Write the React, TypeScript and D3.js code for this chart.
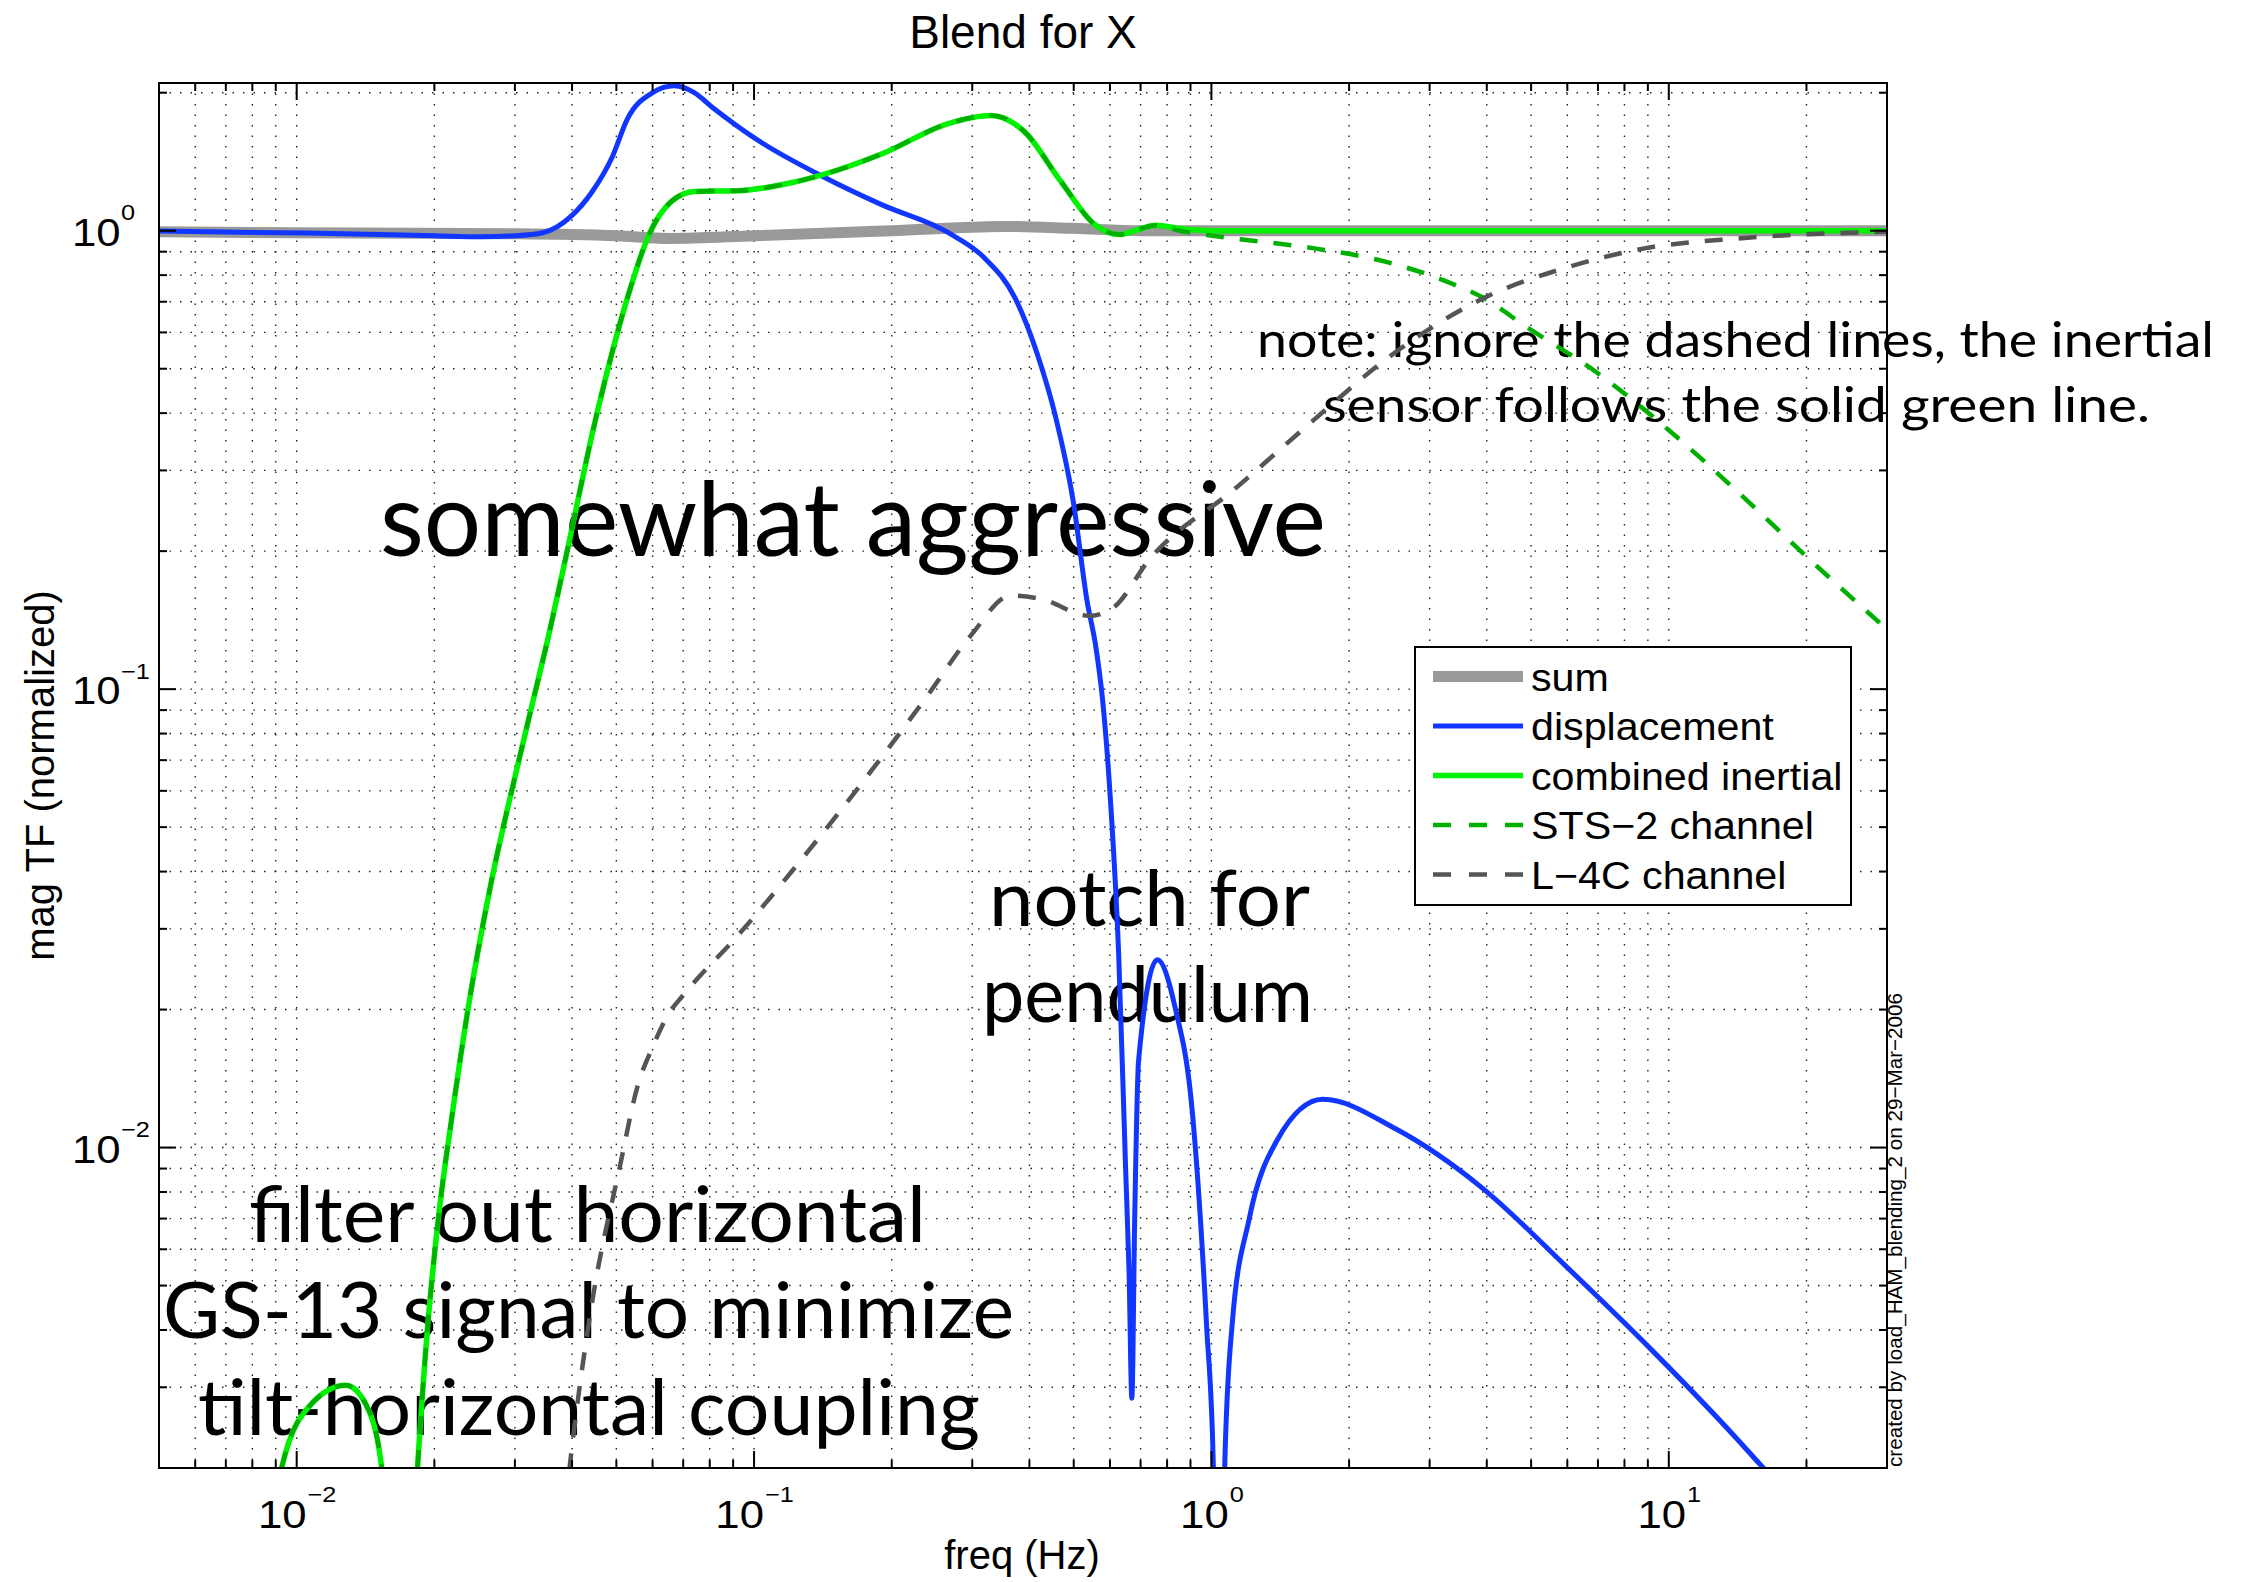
import React from "react";
import * as d3 from "d3";

// ---------------- data ----------------
const sumFreq = [0.005, 0.01, 0.03, 0.05, 0.065, 0.1, 0.2, 0.35, 0.5, 0.7, 1, 30];
const sumMag = [0.995, 0.99, 0.985, 0.975, 0.962, 0.975, 1.0, 1.022, 1.012, 1.0, 1.0, 1.0];

const dispFreq = [
  0.005, 0.0105, 0.02, 0.0252, 0.03, 0.0345, 0.04, 0.0441, 0.049, 0.0528, 0.06, 0.067, 0.074, 0.081,
  0.1015, 0.142, 0.19, 0.266, 0.3187, 0.3727, 0.417, 0.456, 0.499, 0.534, 0.56, 0.578, 0.601, 0.627,
  0.649, 0.6606, 0.67, 0.6796, 0.693, 0.7615, 0.834, 0.909, 0.9757, 1.01, 1.04, 1.069, 1.11, 1.209,
  1.394, 1.751, 2.539, 3.894, 5.97, 9.17, 14.07, 16.1, 20, 30,
];
const dispMag = [
  0.998, 0.988, 0.975, 0.97, 0.975, 0.99, 1.08, 1.21, 1.45, 1.75, 2.0, 2.07, 2.0, 1.86,
  1.58, 1.31, 1.14, 0.99, 0.873, 0.711, 0.535, 0.394, 0.256, 0.157, 0.122, 0.095, 0.058, 0.0263,
  0.0091, 0.00536, 0.00284, 0.00698, 0.01546, 0.0257, 0.0201, 0.01187, 0.00411, 0.002, 0.0003, 0.002, 0.00411, 0.00698,
  0.0104, 0.01274, 0.01096, 0.00819, 0.0055, 0.00362, 0.00232, 0.002, 0.0016, 0.00106,
];

const combFreq = [
  0.0085, 0.00927, 0.01077, 0.0128, 0.01415, 0.01535, 0.0168, 0.01837, 0.01935, 0.0204, 0.0219, 0.0237,
  0.0265, 0.0303, 0.0327, 0.0355, 0.0387, 0.0452, 0.0528, 0.0591, 0.0662, 0.0741, 0.0927, 0.1213, 0.19,
  0.266, 0.3296, 0.39, 0.467, 0.558, 0.631, 0.7, 0.756, 0.851, 1.0, 30,
];
const combMag = [
  0.0012, 0.002, 0.00276, 0.00303, 0.00276, 0.002, 0.0004, 0.002, 0.00411, 0.00698, 0.01187, 0.0201,
  0.037, 0.067, 0.0923, 0.13, 0.1924, 0.394, 0.711, 0.987, 1.162, 1.218, 1.223, 1.274, 1.47,
  1.713, 1.784, 1.645, 1.287, 1.028, 0.981, 1.01, 1.028, 1.011, 1.0, 1.0,
];

// STS-2 channel follows the combined inertial curve below ~0.8 Hz, then rolls off
const stsHighFreq = [0.851, 1.045, 1.68, 2.4, 3.34, 3.94, 4.87, 6.97, 9.96, 14.2, 20.3, 30];
const stsHighMag = [1.0, 0.97, 0.915, 0.856, 0.768, 0.713, 0.618, 0.49, 0.3685, 0.2685, 0.192, 0.135];

const l4cFreq = [
  0.038, 0.0395, 0.0444, 0.0509, 0.0555, 0.0599, 0.0649, 0.07, 0.0927, 0.132, 0.188, 0.238, 0.298,
  0.364, 0.4266, 0.54, 0.61, 0.732, 1.123, 1.68, 2.4, 3.94, 5.9, 8.84, 14.2, 30,
];
const l4cMag = [
  0.0014, 0.002, 0.00469, 0.0091, 0.0135, 0.0165, 0.0195, 0.0215, 0.0292, 0.0446, 0.07, 0.096, 0.131,
  0.16, 0.157, 0.1445, 0.1506, 0.192, 0.273, 0.3876, 0.523, 0.713, 0.828, 0.915, 0.962, 0.995,
];

const xLabelTicks = [0.01, 0.1, 1, 10];
const xLabelExps = ["\u22122", "\u22121", "0", "1"];
const yLabelTicks = [0.01, 0.1, 1];
const yLabelExps = ["\u22122", "\u22121", "0"];

const legendNames = ["sum", "displacement", "combined inertial", "STS\u22122 channel", "L\u22124C channel"];

const titleText = "Blend for X";
const xLabelText = "freq (Hz)";
const yLabelText = "mag TF (normalized)";
const creditText = "created by load_HAM_blending_2 on 29\u2212Mar\u22122006";

// ---------------- layout / style ----------------
const W = 2247;
const H = 1582;
const M = { left: 159, right: 1887, top: 83, bottom: 1468 };
const FONT = "'Liberation Sans', Arial, Helvetica, sans-serif";
const GILL = "Lato, 'Open Sans', sans-serif";

const styles = [
  { color: "#999999", width: 11, dash: null },
  { color: "#1036ff", width: 5, dash: null },
  { color: "#00f200", width: 5.5, dash: null },
  { color: "#00b000", width: 4.5, dash: "18,16" },
  { color: "#555555", width: 4.5, dash: "18,16" },
];

type P = { f: number; v: number };
const zip = (fs: number[], vs: number[]): P[] => fs.map((f, i) => ({ f, v: vs[i] }));

function SText(props: any) {
  const { x, y, sx = 1, size, anchor = "start", family = FONT, children, rotate, len } = props;
  const tr = `translate(${x},${y})${rotate ? ` rotate(${rotate})` : ""} scale(${sx},1)`;
  return (
    <text
      transform={tr}
      fontSize={size}
      textAnchor={anchor}
      fontFamily={family}
      fill="#000"
      textLength={len}
      lengthAdjust={len ? "spacingAndGlyphs" : undefined}
    >
      {children}
    </text>
  );
}

export default function App() {
  const x = d3.scaleLog().domain([0.005, 30]).range([M.left, M.right]);
  const y = d3.scaleLog().domain([0.002, 2.1]).range([M.bottom, M.top]);
  const line = d3
    .line<P>()
    .x((d) => x(d.f))
    .y((d) => y(d.v))
    .curve(d3.curveMonotoneX);

  const comb = zip(combFreq, combMag);
  const series = [
    zip(sumFreq, sumMag),
    zip(dispFreq, dispMag),
    comb,
    comb.filter((d) => d.f < 0.8).concat(zip(stsHighFreq, stsHighMag)),
    zip(l4cFreq, l4cMag),
  ];

  const isMajor = (t: number) => Math.abs(Math.log10(t) - Math.round(Math.log10(t))) < 1e-6;
  const xTicks = x.ticks();
  const yTicks = y.ticks();

  const tickSX = 1.15;
  const tickSize = 38;
  const expSize = 22;
  const w10 = 1.112 * tickSize * tickSX;
  const expW = (e: string) => (e.length > 1 ? 1.14 : 0.556) * expSize * tickSX;

  const legendRowY = [676.5, 726, 775.5, 825, 874.5];

  return (
    <div style={{ position: "absolute", left: 0, top: 0 }}>
      <svg width={W} height={H} viewBox={`0 0 ${W} ${H}`} style={{ display: "block", background: "#fff" }}>
        <defs>
          <clipPath id="plotclip">
            <rect x={M.left} y={M.top} width={M.right - M.left} height={M.bottom - M.top} />
          </clipPath>
        </defs>
        <rect x={0} y={0} width={W} height={H} fill="#fff" />

        {/* grid */}
        <g stroke="#222" strokeWidth={1.4} strokeDasharray="1.5,9" fill="none">
          {xTicks.map((t, i) => (
            <line key={"gx" + i} x1={x(t)} x2={x(t)} y1={M.top} y2={M.bottom} />
          ))}
          {yTicks.map((t, i) => (
            <line key={"gy" + i} x1={M.left} x2={M.right} y1={y(t)} y2={y(t)} />
          ))}
        </g>

        {/* annotations (Gill-Sans-like) */}
        <g fontFamily={GILL} fill="#000">
          <text x={380} y={556} fontSize={103} textLength={946} lengthAdjust="spacingAndGlyphs">
            somewhat aggressive
          </text>
          <text x={1257} y={357} fontSize={48} textLength={957} lengthAdjust="spacingAndGlyphs">
            note: ignore the dashed lines, the inertial
          </text>
          <text x={1323} y={422} fontSize={48} textLength={827} lengthAdjust="spacingAndGlyphs">
            sensor follows the solid green line.
          </text>
          <text x={989} y={926} fontSize={78} textLength={321} lengthAdjust="spacingAndGlyphs">
            notch for
          </text>
          <text x={982} y={1022} fontSize={78} textLength={331} lengthAdjust="spacingAndGlyphs">
            pendulum
          </text>
          <text x={249} y={1242} fontSize={78} textLength={677} lengthAdjust="spacingAndGlyphs">
            filter out horizontal
          </text>
          <text x={163} y={1338} fontSize={78} textLength={851} lengthAdjust="spacingAndGlyphs">
            GS-13 signal to minimize
          </text>
          <text x={198} y={1435} fontSize={78} textLength={782} lengthAdjust="spacingAndGlyphs">
            tilt-horizontal coupling
          </text>
        </g>

        {/* curves */}
        <g clipPath="url(#plotclip)" fill="none">
          {series.map((s, i) => (
            <path
              key={"s" + i}
              d={line(s) || ""}
              stroke={styles[i].color}
              strokeWidth={styles[i].width}
              strokeDasharray={styles[i].dash || undefined}
              strokeLinejoin="round"
            />
          ))}
        </g>

        {/* axes box and ticks */}
        <g stroke="#000" strokeWidth={2} fill="none">
          <rect x={M.left} y={M.top} width={M.right - M.left} height={M.bottom - M.top} />
          {xTicks.map((t, i) => {
            const len = isMajor(t) ? 17 : 8;
            return (
              <g key={"tx" + i}>
                <line x1={x(t)} x2={x(t)} y1={M.bottom} y2={M.bottom - len} />
                <line x1={x(t)} x2={x(t)} y1={M.top} y2={M.top + len} />
              </g>
            );
          })}
          {yTicks.map((t, i) => {
            const len = isMajor(t) ? 17 : 8;
            return (
              <g key={"ty" + i}>
                <line x1={M.left} x2={M.left + len} y1={y(t)} y2={y(t)} />
                <line x1={M.right} x2={M.right - len} y1={y(t)} y2={y(t)} />
              </g>
            );
          })}
        </g>

        {/* x tick labels */}
        {xLabelTicks.map((t, i) => {
          const total = w10 + expW(xLabelExps[i]);
          const x0 = x(t) - total / 2;
          return (
            <g key={"xl" + i}>
              <SText x={x0} y={1528} sx={tickSX} size={tickSize}>10</SText>
              <SText x={x0 + w10 + 1} y={1502} sx={tickSX} size={expSize}>{xLabelExps[i]}</SText>
            </g>
          );
        })}

        {/* y tick labels */}
        {yLabelTicks.map((t, i) => (
          <g key={"yl" + i}>
            <SText x={72} y={y(t) + 15} sx={tickSX} size={tickSize}>10</SText>
            <SText x={121} y={y(t) - 10.6} sx={tickSX} size={expSize}>{yLabelExps[i]}</SText>
          </g>
        ))}

        {/* title and axis labels */}
        <SText x={(M.left + M.right) / 2} y={48} size={46} anchor="middle">{titleText}</SText>
        <SText x={1022} y={1569} size={40} anchor="middle">{xLabelText}</SText>
        <SText x={54} y={(M.top + M.bottom) / 2} size={40} anchor="middle" rotate={-90}>{yLabelText}</SText>
        <SText x={1902} y={1467} size={21} rotate={-90} len={474}>{creditText}</SText>

        {/* legend */}
        <g>
          <rect x={1415} y={647} width={436} height={258} fill="#fff" stroke="#000" strokeWidth={2} />
          {legendNames.map((name, i) => (
            <g key={"lg" + i}>
              <line
                x1={1433}
                x2={1523}
                y1={legendRowY[i]}
                y2={legendRowY[i]}
                stroke={styles[i].color}
                strokeWidth={styles[i].width}
                strokeDasharray={styles[i].dash ? "18,18" : undefined}
              />
              <SText x={1531} y={legendRowY[i] + 14} sx={1.085} size={38}>{name}</SText>
            </g>
          ))}
        </g>
      </svg>
    </div>
  );
}
